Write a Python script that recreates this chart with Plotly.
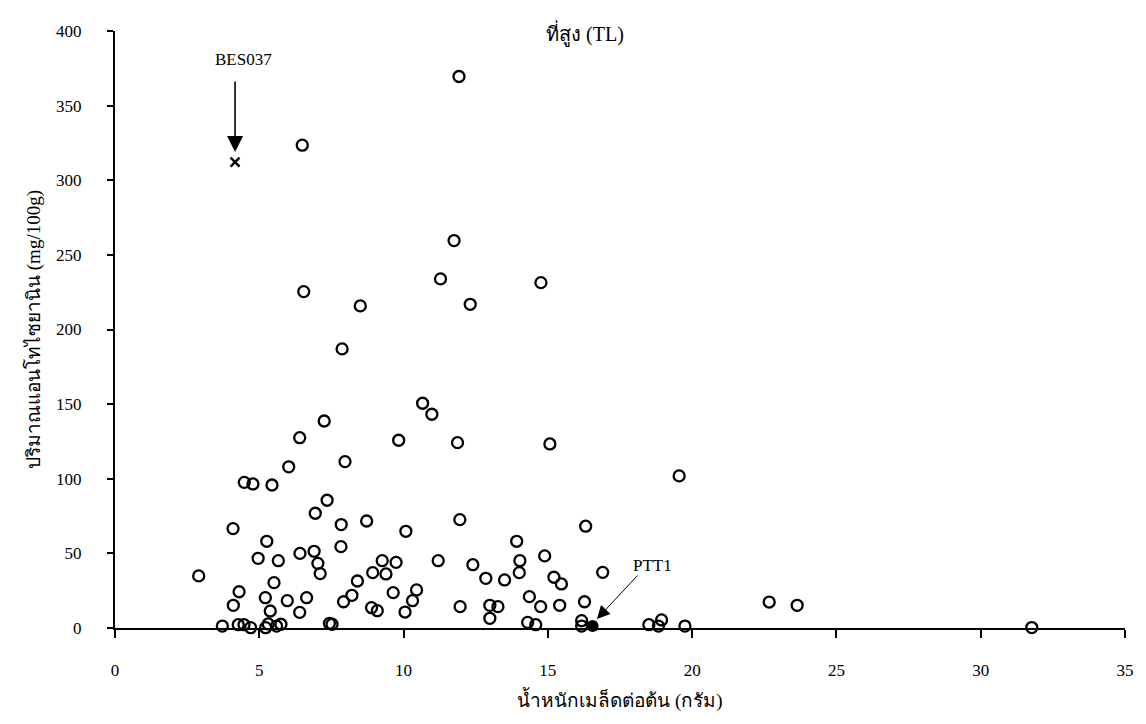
import plotly.graph_objects as go

# Seed weight per plant (g) and anthocyanin content (mg/100g)
seed_weight = [2.90, 4.09, 4.48, 4.78, 5.44, 6.02, 7.97, 7.35, 6.94, 7.84, 7.83, 5.26, 4.96, 5.66,
               6.41, 6.90, 7.03, 7.11, 8.40, 8.21, 7.92, 4.30, 4.10, 5.21, 5.51, 5.38, 5.97, 6.64,
               6.40, 3.72, 4.27, 4.47, 4.70, 5.22, 5.31, 5.60, 5.75, 7.43, 7.52, 8.72, 10.08, 11.95,
               13.92, 16.31, 9.26, 9.74, 8.93, 9.39, 11.20, 12.40, 12.85, 13.50, 14.03, 14.01, 14.89,
               15.21, 15.47, 16.90, 9.64, 10.45, 10.31, 8.89, 9.09, 10.05, 11.96, 12.99, 13.27, 12.99,
               14.36, 14.75, 15.41, 16.27, 14.30, 14.58, 16.17, 16.17, 19.55, 22.67, 23.64, 18.50,
               18.83, 18.94, 19.75, 6.49, 11.92, 11.75, 11.28, 6.54, 8.50, 7.87, 10.66, 10.98, 7.25,
               6.40, 9.83, 12.31, 14.76, 11.87, 15.07, 31.77]
anthocyanin = [34.9, 66.6, 97.6, 96.5, 95.8, 108.0, 111.5, 85.6, 76.9, 69.3, 54.5, 58.1, 46.7, 45.1,
               50.0, 51.4, 43.3, 36.4, 31.5, 21.9, 17.6, 24.3, 15.2, 20.3, 30.4, 11.4, 18.3, 20.3,
               10.5, 1.3, 2.2, 2.2, 0.2, 0.2, 2.7, 1.3, 2.5, 3.1, 2.5, 71.7, 64.8, 72.6,
               58.1, 68.2, 45.1, 44.0, 37.1, 36.2, 45.1, 42.4, 33.3, 32.2, 45.1, 37.1, 48.3,
               34.0, 29.5, 37.3, 23.7, 25.5, 18.3, 13.6, 11.6, 10.7, 14.3, 15.2, 14.3, 6.5,
               21.0, 14.3, 15.2, 17.6, 3.8, 2.2, 4.9, 1.3, 101.9, 17.4, 15.2, 2.2,
               1.3, 5.4, 1.3, 323.5, 369.5, 259.6, 233.9, 225.4, 215.8, 187.0, 150.6, 143.2, 138.7,
               127.5, 125.8, 216.9, 231.4, 124.2, 123.3, 0.3]

bes_x, bes_y = [4.16], [312.1]
ptt_x, ptt_y = [16.55], [1.3]

x_ticks = [0, 5, 10, 15, 20, 25, 30, 35]
y_ticks = [0, 50, 100, 150, 200, 250, 300, 350, 400]

serif = "Liberation Serif, Times New Roman, serif"

fig = go.Figure()
fig.add_trace(go.Scatter(x=seed_weight, y=anthocyanin, mode="markers",
                         marker=dict(symbol="circle-open", size=11, color="black",
                                     line=dict(width=2.3, color="black")),
                         showlegend=False, cliponaxis=False))
fig.add_trace(go.Scatter(x=bes_x, y=bes_y, mode="markers",
                         marker=dict(symbol="x-thin-open", size=9, color="black",
                                     line=dict(width=2.4, color="black")),
                         showlegend=False))
fig.add_trace(go.Scatter(x=ptt_x, y=ptt_y, mode="markers",
                         marker=dict(symbol="circle", size=12, color="black"),
                         showlegend=False, cliponaxis=False))

fig.update_layout(
    width=1146, height=724,
    margin=dict(l=115, r=21, t=31, b=96),
    paper_bgcolor="white", plot_bgcolor="white",
    font=dict(family=serif, size=16, color="black"),
    title=dict(text="ที่สูง (TL)", x=585/1146, xanchor="center", y=1-34/724, yanchor="middle",
               font=dict(size=20, family=serif, color="black")),
    xaxis=dict(range=[0, 35], tickvals=x_ticks, showgrid=False, zeroline=False,
               showline=True, linecolor="black", linewidth=2,
               ticks="outside", ticklen=8, tickwidth=2, tickcolor="black",
               ticklabelstandoff=18, tickfont=dict(size=17, family=serif),
               title=dict(text="น้ำหนักเมล็ดต่อต้น (กรัม)", standoff=14,
                          font=dict(size=19, family=serif))),
    yaxis=dict(range=[0, 400], tickvals=y_ticks, showgrid=False, zeroline=False,
               showline=True, linecolor="black", linewidth=2,
               ticks="outside", ticklen=6, tickwidth=2, tickcolor="black",
               ticklabelstandoff=22, tickfont=dict(size=17, family=serif),
               title=dict(text="ปริมาณแอนโทไซยานิน (mg/100g)", standoff=10,
                          font=dict(size=19, family=serif))),
)

# BES037 arrow and label
fig.add_annotation(x=4.16, y=319, xref="x", yref="y", ax=0, ay=-72, text="",
                   showarrow=True, arrowhead=2, arrowsize=2.0, arrowwidth=1.6, arrowcolor="black")
fig.add_annotation(x=4.45, y=381, xref="x", yref="y", text="BES037", showarrow=False,
                   font=dict(size=17, family=serif))
# PTT1 arrow and label
fig.add_annotation(x=16.70, y=6.0, xref="x", yref="y", ax=42, ay=-45, text="",
                   showarrow=True, arrowhead=2, arrowsize=2.6, arrowwidth=1, arrowcolor="black")
fig.add_annotation(x=18.63, y=42.2, xref="x", yref="y", text="PTT1", showarrow=False,
                   font=dict(size=17, family=serif))

fig.write_html("out.html")
